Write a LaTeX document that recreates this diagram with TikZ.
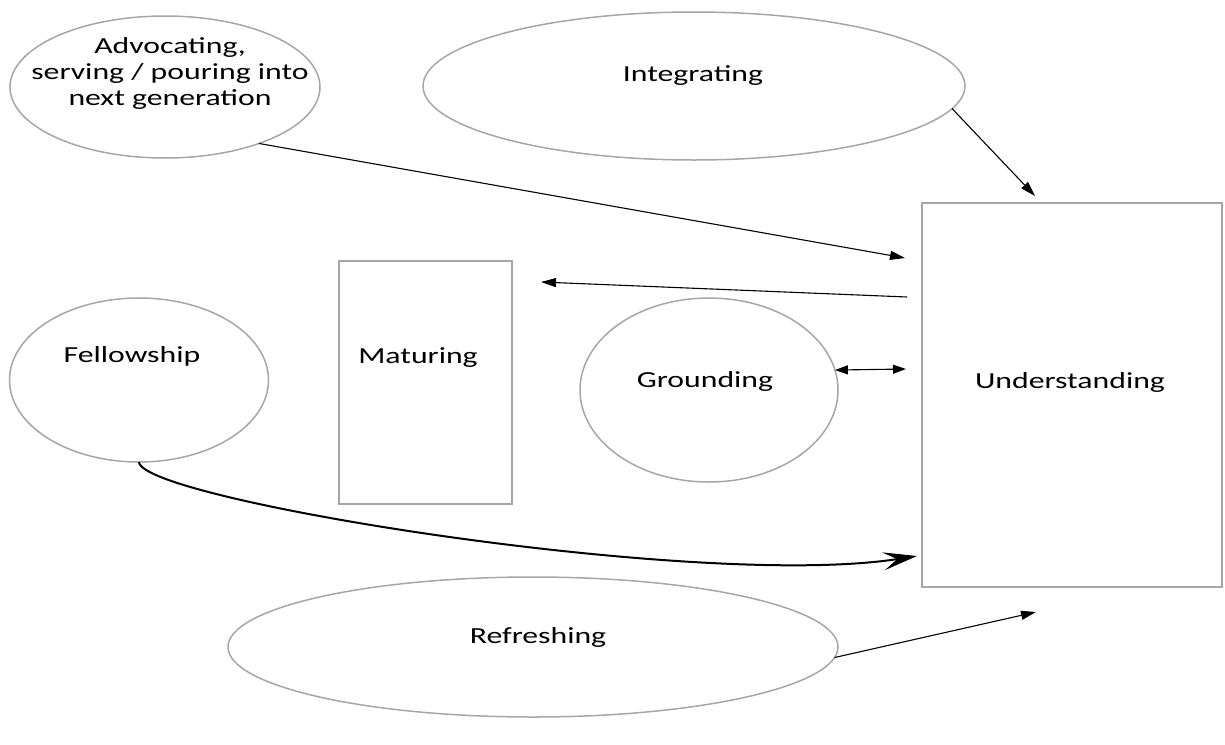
\documentclass[tikz,border=0pt]{standalone}
\usepackage{fontspec}
\setmainfont[FakeStretch=1.38]{Carlito}
\usetikzlibrary{arrows.meta,shapes.geometric}
\definecolor{shapegray}{HTML}{A6A6A6}
\begin{document}
\begin{tikzpicture}[x=1pt,y=-1pt,
  oval/.style={ellipse,draw=shapegray,line width=1.5pt,inner sep=0pt,outer sep=0pt},
  box/.style={rectangle,draw=shapegray,line width=1.5pt,inner sep=0pt,outer sep=0pt},
  lbl/.style={anchor=base,inner sep=0pt,font=\fontsize{23}{26}\selectfont,align=center},
  conn/.style={line width=1.1pt,-{Triangle[length=15pt,width=9pt]}},
  curvy/.style={line width=2pt,-{Stealth[length=34pt,width=18pt,inset=14pt]}}]
\useasboundingbox (0,0) rectangle (1225,744);
% shapes
\node[oval,minimum width=310pt,minimum height=142pt] (adv) at (165,87) {};
\node[oval,minimum width=542pt,minimum height=148pt] (intg) at (694,86) {};
\node[oval,minimum width=259pt,minimum height=164pt] (fel) at (139,380) {};
\node[oval,minimum width=258pt,minimum height=184pt] (grd) at (709,390) {};
\node[oval,minimum width=610pt,minimum height=140pt] (ref) at (533,647) {};
\node[box,minimum width=300pt,minimum height=384pt] (und) at (1072,395) {};
\node[box,minimum width=173pt,minimum height=243pt] (mat) at (425.5,382.5) {};
% labels
\node[lbl] (advt) at (170,105) {Advocating,\\serving / pouring into\\next generation};
\node[lbl] (intgt) at (693,81) {Integrating};
\node[lbl] (felt) at (132,362) {Fellowship};
\node[lbl] (matt) at (418,363) {Maturing};
\node[lbl] (grdt) at (705,387) {Grounding};
\node[lbl] (undt) at (1070,388) {Understanding};
\node[lbl] (reft) at (538,643) {Refreshing};
% free ends
\coordinate (a1e) at (905,258);
\coordinate (i1e) at (1035,196);
\coordinate (u1s) at (907,297);
\coordinate (u1e) at (541,282);
\coordinate (g1e) at (906,369);
\coordinate (f1e) at (917,556);
\coordinate (r1e) at (1036,612);
% connectors
\draw[conn] (adv.-31) -- (a1e);
\draw[conn] (intg.-5) -- (i1e);
\draw[conn] (u1s) -- (u1e);
\draw[line width=1.1pt,{Triangle[length=13pt,width=9pt]}-{Triangle[length=13pt,width=9pt]}] (grd.9) -- (g1e);
\draw[curvy] (fel.south) .. controls (141,500) and (700,590) .. (f1e);
\draw[conn] (ref.-2) -- (r1e);
\end{tikzpicture}
\end{document}
